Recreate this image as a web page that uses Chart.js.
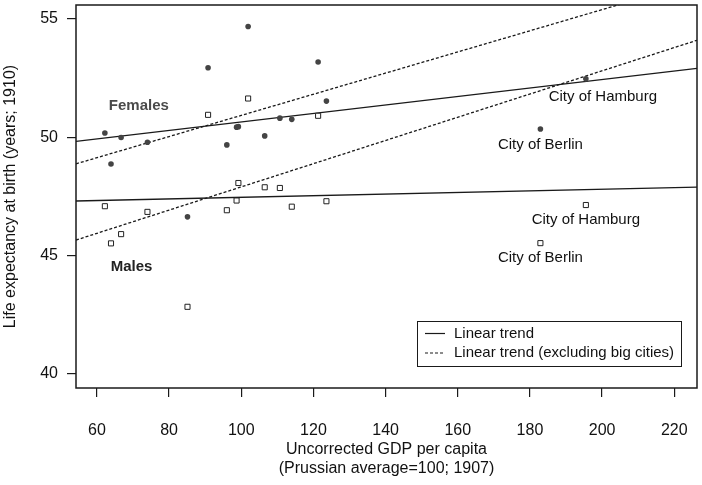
<!DOCTYPE html>
<html>
<head>
<meta charset="utf-8">
<script src="https://cdn.jsdelivr.net/npm/chart.js@4.4.1/dist/chart.umd.min.js"></script>
<style>
  body { margin: 0; background: #fff; }
  #wrap { width: 702px; height: 485px; }
</style>
</head>
<body>
<div id="wrap"><canvas id="myChart" width="702" height="485"></canvas></div>
<script>
const gdp = [62.2, 63.9, 66.7, 74.0, 85.1, 90.8, 96.0, 98.7, 99.2, 101.9, 106.5, 110.7, 114.0, 121.3, 123.6, 182.9, 195.5]
const femaleLE = [50.18, 48.87, 49.99, 49.79, 46.64, 52.94, 49.68, 50.43, 50.45, 54.68, 50.06, 50.81, 50.76, 53.18, 51.53, 50.35, 52.47]
const maleLE = [47.09, 45.52, 45.91, 46.85, 42.84, 50.95, 46.92, 47.33, 48.07, 51.64, 47.89, 47.86, 47.07, 50.91, 47.30, 45.53, 47.14]

const cityNames = ['City of Berlin', 'City of Hamburg']
const cityIndex = [15, 16]

// trend lines read at the two ends of the x axis
const trendX = [54.2, 226.3]
const femaleTrend = [49.83, 52.91]
const femaleTrendNoCities = [48.88, 56.57]
const maleTrend = [47.31, 47.90]
const maleTrendNoCities = [45.66, 54.10]

const xTicks = [60, 80, 100, 120, 140, 160, 180, 200, 220]
const yTicks = [40, 45, 50, 55]

const groupLabels = ['Females', 'Males']
const legendLabels = ['Linear trend', 'Linear trend (excluding big cities)']

const ink = '#1a1a1a'
const font = 'Liberation Sans, Arial, Helvetica, sans-serif'

const toPoints = (xs, ys) => xs.map((x, i) => ({x: x, y: ys[i]}))

function trendSet(ys, dashed) {
  return {
    type: 'line',
    data: toPoints(trendX, ys),
    borderColor: ink,
    borderWidth: 1.3,
    borderDash: dashed ? [3, 2] : [],
    pointRadius: 0,
    fill: false
  }
}

function noPadding(s) {
  s.paddingTop = 0
  s.paddingBottom = 0
  s.paddingLeft = 0
  s.paddingRight = 0
}

const annotations = {
  id: 'annotations',
  afterDatasetsDraw(chart) {
    const ctx = chart.ctx
    const area = chart.chartArea
    const x = chart.scales.x
    const y = chart.scales.y
    ctx.save()

    // frame
    ctx.strokeStyle = ink
    ctx.lineWidth = 1.5
    ctx.strokeRect(area.left, area.top, area.right - area.left, area.bottom - area.top)

    // group labels
    ctx.font = 'bold 15px ' + font
    ctx.textAlign = 'left'
    ctx.textBaseline = 'middle'
    ctx.fillStyle = '#4a4a4a'
    ctx.fillText(groupLabels[0], x.getPixelForValue(63.3), y.getPixelForValue(51.34))
    ctx.fillStyle = '#222'
    ctx.fillText(groupLabels[1], x.getPixelForValue(63.8), y.getPixelForValue(44.54))

    // city labels under their points
    ctx.font = '15px ' + font
    ctx.fillStyle = '#111'
    ctx.textAlign = 'center'
    const fem = chart.getDatasetMeta(0).data
    const mal = chart.getDatasetMeta(1).data
    cityIndex.forEach((idx, k) => {
      const shift = k === 1 ? 17 : 0
      ctx.fillText(cityNames[k], fem[idx].x + shift, fem[idx].y + (k === 1 ? 18 : 16))
      ctx.fillText(cityNames[k], mal[idx].x, mal[idx].y + 15)
    })

    // legend box
    const bw = 264, bh = 45
    const bx = area.right - 16 - bw
    const by = area.bottom - 22 - bh
    ctx.fillStyle = '#fff'
    ctx.fillRect(bx, by, bw, bh)
    ctx.lineWidth = 1
    ctx.strokeRect(bx + 0.5, by + 0.5, bw, bh)
    ctx.textAlign = 'left'
    ctx.fillStyle = '#111'
    legendLabels.forEach((txt, i) => {
      const ly = by + 12.5 + i * 19.5
      ctx.beginPath()
      ctx.setLineDash(i === 1 ? [3, 2] : [])
      ctx.lineWidth = 1.2
      ctx.moveTo(bx + 8, ly)
      ctx.lineTo(bx + 28, ly)
      ctx.stroke()
      ctx.setLineDash([])
      ctx.fillText(txt, bx + 37, ly)
    })
    ctx.restore()
  }
}

const ctx = document.getElementById('myChart').getContext('2d')
const chart = new Chart(ctx, {
  type: 'scatter',
  data: {
    datasets: [
      {
        label: 'Females',
        data: toPoints(gdp, femaleLE),
        pointStyle: 'circle',
        pointRadius: 2.8,
        backgroundColor: '#444',
        borderWidth: 0
      },
      {
        label: 'Males',
        data: toPoints(gdp, maleLE),
        pointStyle: 'rect',
        pointRadius: 3.6,
        backgroundColor: '#fff',
        borderColor: '#222',
        borderWidth: 1
      },
      trendSet(femaleTrend, false),
      trendSet(femaleTrendNoCities, true),
      trendSet(maleTrend, false),
      trendSet(maleTrendNoCities, true)
    ]
  },
  options: {
    responsive: false,
    animation: false,
    layout: { padding: { top: 3, right: 5, left: 0, bottom: 0 } },
    plugins: { legend: { display: false }, tooltip: { enabled: false } },
    scales: {
      x: {
        type: 'linear',
        min: trendX[0],
        max: trendX[1],
        afterBuildTicks: s => { s.ticks = xTicks.map(v => ({value: v})) },
        afterFit: s => { s.height = 97; noPadding(s) },
        grid: { drawOnChartArea: false, tickLength: 9, color: ink, lineWidth: 1.2 },
        border: { display: false },
        ticks: { color: '#111', padding: 24, font: { family: font, size: 16 } },
        title: {
          display: true,
          text: ['Uncorrected GDP per capita', '(Prussian average=100; 1907)'],
          color: '#111',
          font: { family: font, size: 16, lineHeight: 1.19 },
          padding: { top: 0, bottom: 7 }
        }
      },
      y: {
        type: 'linear',
        min: 39.41,
        max: 55.59,
        afterBuildTicks: s => { s.ticks = yTicks.map(v => ({value: v})) },
        afterFit: s => { s.width = 76; noPadding(s) },
        grid: { drawOnChartArea: false, tickLength: 9, color: ink, lineWidth: 1.2 },
        border: { display: false },
        ticks: { color: '#111', padding: 9, font: { family: font, size: 16 } },
        title: {
          display: true,
          text: 'Life expectancy at birth (years; 1910)',
          color: '#111',
          font: { family: font, size: 16, lineHeight: 1.19 },
          padding: { top: 1, bottom: 0 }
        }
      }
    }
  },
  plugins: [annotations]
})
</script>
</body>
</html>
